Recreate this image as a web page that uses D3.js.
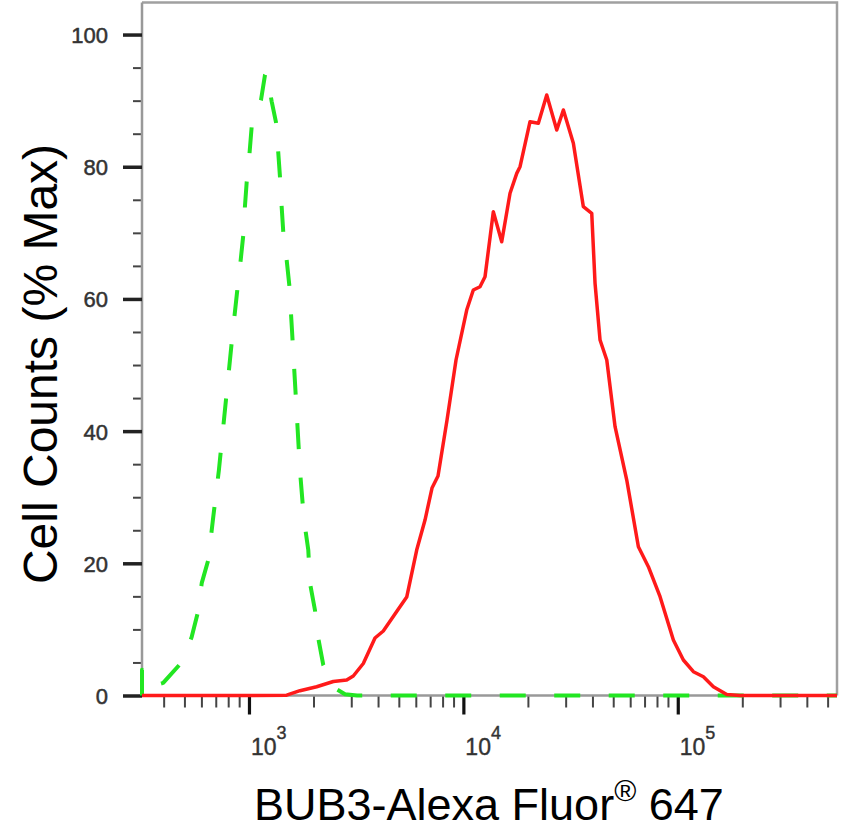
<!DOCTYPE html>
<html><head><meta charset="utf-8">
<script src="https://cdn.jsdelivr.net/npm/d3@7"></script>
<style>body{margin:0;background:#fff}svg{display:block}</style>
</head><body>
<svg id="c" width="868" height="831"></svg>
<script>
// ---- data ----
const xTitle = "BUB3-Alexa Fluor";
const xTitleSup = "®";
const xTitleEnd = " 647";
const yTitle = "Cell Counts (% Max)";
const yMajorTicks = [0, 20, 40, 60, 80, 100];
const yMinorTicks = [5,10,15,25,30,35,45,50,55,65,70,75,85,90,95];
const xMajorTicks = [1e3, 1e4, 1e5];
const xMajorExp = ["3", "4", "5"];
const xDomain = [317, 553000];
const yDomain = [0, 104.85];

// isotype control (green dashed): fluorescence, % max
const ctrlX = [317,317,353,398,482,540,578,602,646,679,724,781,842,882,915,941,958,976,1000,1029,1138,1188,1207,1276,1337,1370,1395,1421,1445,1499,1542,1587,1657,1729,1805,1891,1926,2032,2105,2222,2519,2806,3191,553000];
const ctrlY = [0,3.9,1.4,1.9,4.9,8.8,12.6,17.0,20.5,26.6,34.1,44.7,55.3,61.3,65.9,69.7,74.1,77.7,81.0,86.0,90.1,93.9,94.3,89.9,86.7,82.1,78.5,73.9,70.2,65.9,62.1,55.3,44.7,34.1,26.6,22.0,17.0,12.9,8.65,4.6,1.09,0.2,0,0];

// BUB3 stained (red solid)
const bubX = [317,1044,1499,1729,2069,2474,2856,3066,3414,3871,4232,4887,5442,6058,6624,7140,7616,8391,9241,10366,11126,11956,12618,13796,15097,16507,17741,18380,20460,22373,24482,27262,29272,32586,36280,39700,41135,43405,46656,51000,57823,65514,72930,82690,95390,106200,118300,131700,146600,169300,195300,553000];
const bubY = [0,0,0.05,0.73,1.33,2.12,2.34,2.95,4.84,8.70,9.76,12.71,14.90,22.01,26.55,31.39,33.21,41.68,50.76,58.32,61.35,61.85,63.36,73.19,68.65,75.98,79.00,80.00,86.81,86.57,90.85,85.55,88.58,83.54,73.95,72.95,62.36,53.78,50.76,40.67,32.60,22.51,19.49,14.95,8.40,5.37,3.60,2.84,1.33,0.15,0,0];

// ---- chart ----
const svg = d3.select("#c");
const L = 142, R = 837, T = 2.5, B = 695.5;
const x = d3.scaleLog().domain(xDomain).range([L, R]);
const y = d3.scaleLinear().domain(yDomain).range([B, T]);
const FONT = "'Liberation Sans', Arial, Helvetica, sans-serif";

// frame top/right
svg.append("path").attr("d", `M${L},${T}H${R}V${B}`)
  .attr("fill", "none").attr("stroke", "#a0a0a0").attr("stroke-width", 2.5);

// minor x ticks
const xMinor = [];
for (let e = 2; e <= 5; e++) for (let m = 2; m <= 9; m++) {
  const v = m * Math.pow(10, e);
  if (v > xDomain[0] && v < xDomain[1]) xMinor.push(v);
}
const gxm = svg.append("g").attr("transform", `translate(0,${B})`)
  .call(d3.axisBottom(x).tickValues(xMinor).tickSize(12).tickFormat(""));
gxm.select(".domain").remove();
gxm.selectAll("line").attr("stroke", "#444").attr("stroke-width", 2);

const gxM = svg.append("g").attr("transform", `translate(0,${B})`)
  .call(d3.axisBottom(x).tickValues(xMajorTicks).tickSize(19).tickFormat(""));
gxM.select(".domain").attr("stroke", "#999").attr("stroke-width", 2.5)
  .attr("d", `M${L},0H${R}`);
gxM.selectAll("line").attr("stroke", "#111").attr("stroke-width", 3.2);

// x labels 10^n
xMajorTicks.forEach((v, i) => {
  const t = svg.append("text").attr("x", x(v) + 2).attr("y", 755)
    .attr("font-family", FONT).attr("font-size", 23).attr("fill", "#333")
    .attr("stroke", "#333").attr("stroke-width", 0.4);
  t.append("tspan").text("10");
  t.append("tspan").attr("font-size", 18).attr("dy", -16).text(xMajorExp[i]);
});

// y axis
const gym = svg.append("g").attr("transform", `translate(${L},0)`)
  .call(d3.axisLeft(y).tickValues(yMinorTicks).tickSize(9).tickFormat(""));
gym.select(".domain").remove();
gym.selectAll("line").attr("stroke", "#444").attr("stroke-width", 2);

const gyM = svg.append("g").attr("transform", `translate(${L},0)`)
  .call(d3.axisLeft(y).tickValues(yMajorTicks).tickSize(19).tickPadding(15).tickFormat(d3.format("d")));
gyM.select(".domain").attr("stroke", "#999").attr("stroke-width", 2.5)
  .attr("d", `M0,${B}V${T}`);
gyM.selectAll("line").attr("stroke", "#222").attr("stroke-width", 3.5);
gyM.selectAll("text").attr("font-family", FONT).attr("font-size", 22)
  .attr("fill", "#333").attr("stroke", "#333").attr("stroke-width", 0.5)
  .attr("dy", "0.36em");

// curves
const line = d3.line().x(d => x(d[0])).y(d => y(d[1]));
const ctrl = ctrlX.map((v, i) => [v, ctrlY[i]]);
const bub = bubX.map((v, i) => [v, bubY[i]]);

svg.append("path").datum(ctrl).attr("d", line)
  .attr("fill", "none").attr("stroke", "#22e622").attr("stroke-width", 4)
  .attr("stroke-dasharray", "26,28.5").attr("stroke-linejoin", "round");
svg.append("path").datum(bub).attr("d", line)
  .attr("fill", "none").attr("stroke", "#ff1a1a").attr("stroke-width", 3.5)
  .attr("stroke-linejoin", "round");

// titles
const xt = svg.append("text").attr("x", 254).attr("y", 820)
  .attr("font-family", FONT).attr("font-size", 45).attr("fill", "#000");
xt.append("tspan").text(xTitle);
xt.append("tspan").attr("font-size", 30).attr("dy", -19).text(xTitleSup);
xt.append("tspan").attr("dy", 19).text(xTitleEnd);

svg.append("text").attr("transform", `translate(57,364) rotate(-90)`)
  .attr("text-anchor", "middle").attr("font-family", FONT).attr("font-size", 48)
  .attr("fill", "#000").text(yTitle);
</script>
</body></html>
